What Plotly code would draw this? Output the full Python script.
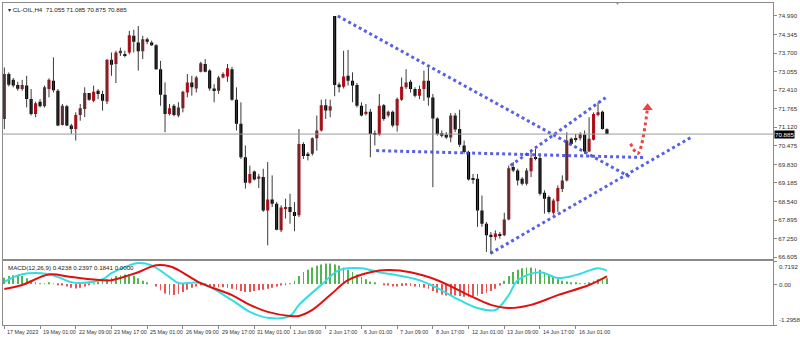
import plotly.graph_objects as go

# ---------------- data ----------------
opens = [71.41,72.97,72.77,72.59,72.45,72.57,72.10,71.58,72.01,71.85,72.45,72.74,72.39,71.20,71.85,71.18,71.06,71.55,71.76,72.31,
         72.04,72.39,72.28,72.02,73.47,73.32,73.69,73.66,73.72,74.30,74.07,73.76,74.18,74.07,73.97,73.14,72.25,71.58,71.87,71.53,
         71.78,72.33,72.68,72.47,73.05,73.32,73.09,72.47,72.39,72.85,72.89,73.14,72.08,71.24,70.08,69.19,69.58,69.33,69.39,68.23,
         68.61,68.46,67.54,68.31,68.35,68.18,68.06,70.54,70.20,70.20,70.74,71.01,71.89,71.70,74.99,72.61,72.53,72.91,72.74,72.59,
         71.87,71.58,71.66,70.91,70.86,71.89,71.53,71.66,71.18,72.08,72.51,72.70,72.45,72.22,72.45,72.74,72.16,71.43,70.91,70.86,
         70.77,71.53,71.06,70.49,70.26,69.35,69.33,68.23,67.77,67.39,67.31,67.39,67.37,67.92,69.74,69.62,69.33,69.16,69.59,70.08,
         70.05,68.85,68.70,68.15,68.55,68.98,69.27,70.72,70.74,70.74,70.86,70.28,70.69,71.55,71.66,71.055]
highs = [73.20,73.03,72.83,72.70,72.77,72.91,72.45,72.01,72.10,72.57,72.82,73.55,72.45,71.93,71.90,71.24,71.64,71.93,72.51,72.31,
         72.57,72.45,72.39,73.49,73.72,73.78,73.89,73.78,74.47,74.51,74.64,74.30,74.24,74.13,74.01,73.43,72.68,71.93,71.93,71.99,
         72.39,72.97,72.91,72.91,73.40,73.49,73.14,72.62,72.91,73.03,73.32,73.22,72.51,71.99,70.49,69.79,69.62,69.50,69.68,69.91,
         69.45,68.52,68.41,68.64,68.81,68.52,71.06,70.60,70.26,70.77,71.53,72.08,72.10,72.08,74.99,72.68,73.78,73.81,73.03,72.66,
         71.99,71.93,71.76,71.01,72.28,71.93,71.70,71.70,72.16,72.85,73.14,72.77,72.51,72.57,73.09,73.20,72.28,71.47,71.01,70.95,
         71.62,71.62,71.73,70.66,70.31,69.50,69.50,68.75,67.83,67.48,67.54,67.48,68.15,69.79,69.91,69.68,69.39,69.70,70.31,70.37,
         70.14,68.93,68.75,68.64,69.10,69.45,70.95,70.77,70.89,70.95,71.01,71.47,71.64,71.99,71.70,71.085]
lows = [71.06,72.54,72.51,72.39,72.39,71.81,71.53,71.47,71.81,71.81,72.16,72.33,71.16,71.18,71.16,70.89,70.66,71.35,71.47,72.04,
        71.99,72.10,71.70,71.93,72.91,72.66,73.60,73.55,73.66,73.72,73.09,73.49,74.01,73.95,73.12,71.87,70.95,71.53,71.50,71.47,
        71.64,72.16,72.22,72.33,73.03,73.03,72.39,71.99,72.28,72.82,72.70,72.04,71.01,70.02,68.99,69.16,69.27,69.01,68.18,67.02,
        68.35,67.54,67.48,67.95,67.77,67.51,68.00,70.02,69.97,70.14,70.31,70.97,71.41,71.47,72.20,72.33,72.47,72.57,71.99,71.81,
        71.50,71.53,70.08,70.49,70.83,71.35,71.47,71.12,70.97,72.04,72.45,72.33,72.16,72.10,72.04,71.87,69.04,70.83,70.77,70.72,
        70.60,70.95,70.43,70.20,69.27,69.16,67.66,67.66,66.79,66.73,67.19,67.25,67.34,67.89,69.56,69.10,69.10,69.10,69.39,69.97,
        68.75,68.12,68.12,68.08,68.18,68.87,69.24,70.49,70.60,70.66,70.20,70.26,70.66,71.50,71.04,70.875]
closes = [72.97,72.60,72.57,72.46,72.59,72.10,71.58,71.96,71.85,72.51,72.77,72.41,71.18,71.87,71.18,71.06,71.55,71.78,72.31,72.08,
          72.36,72.28,72.04,73.47,73.29,73.72,73.78,73.60,74.32,74.09,73.76,74.18,74.09,73.97,73.14,72.25,71.58,71.78,71.55,71.81,
          72.36,72.68,72.51,72.85,73.35,73.05,72.47,72.38,72.85,72.97,73.17,72.08,71.24,70.08,69.19,69.50,69.31,69.41,68.23,68.61,
          68.46,67.56,68.33,68.35,68.18,68.04,70.54,70.12,70.12,70.74,71.01,71.89,71.70,71.85,72.59,72.51,72.89,72.74,72.57,71.87,
          71.53,71.66,70.89,70.86,71.87,71.41,71.66,71.18,72.10,72.53,72.68,72.45,72.22,72.45,72.74,72.16,71.43,70.89,70.83,70.77,
          71.53,71.04,70.51,70.26,69.31,69.31,68.23,67.77,67.37,67.33,67.43,67.37,67.92,69.70,69.62,69.27,69.16,69.62,70.05,70.02,
          68.81,68.64,68.18,68.58,69.01,69.27,70.66,70.54,70.69,70.89,70.28,70.72,71.58,71.64,71.06,70.885]

time_labels = ["17 May 2023","19 May 01:00","22 May 09:00","23 May 17:00","25 May 01:00","26 May 09:00",
               "29 May 17:00","31 May 01:00","1 Jun 09:00","2 Jun 17:00","6 Jun 01:00","7 Jun 09:00",
               "8 Jun 17:00","12 Jun 01:00","13 Jun 09:00","14 Jun 17:00","16 Jun 01:00"]
time_label_bars = [0,8,16,24,32,40,48,56,64,72,80,88,96,104,112,120,128]

price_ticks = [74.990,74.345,73.700,73.055,72.410,71.765,71.120,70.475,69.830,69.185,68.540,67.895,67.250,66.605]

# MACD (12,26,9) at sample bars
macd_bars   = [0,4,10,15,17,22,24,28,30,33,37,39,44,51,55,59,64,66,71,75,80,84,88,93,97,102,106,110,113,115,120,124,128,133,135]
macd_main   = [0.07,0.31,0.31,0.06,0.03,0.15,0.34,0.59,0.66,0.59,0.22,0.03,0.03,-0.51,-0.88,-1.07,-1.01,-0.66,-0.03,0.44,
               0.50,0.37,0.28,0.12,-0.13,-0.51,-0.76,-0.82,-0.35,0.12,0.37,0.19,0.28,0.50,0.4238]
signal_bars = [0,4,10,15,22,24,28,30,34,37,39,44,51,55,59,64,66,69,73,77,82,86,91,97,104,109,113,118,124,131,135]
macd_signal = [-0.16,-0.03,0.30,0.22,0.12,0.12,0.28,0.37,0.59,0.56,0.44,0.03,-0.35,-0.66,-0.88,-1.01,-1.01,-0.82,-0.35,0.12,
               0.37,0.44,0.37,0.12,-0.35,-0.66,-0.76,-0.66,-0.35,-0.03,0.2397]
macd_hist = [0.20,0.25,0.28,0.28,0.25, 0.18,0.10,0.05,0.02,0.02, 0.03,0.02,-0.03,-0.05,-0.08, -0.12,-0.14,-0.12,-0.08,-0.04,
             0.02,0.06,0.10,0.15,0.20, 0.25,0.28,0.30,0.30,0.25, 0.18,0.10,0.05,0.00,-0.08, -0.20,-0.30,-0.34,-0.35,-0.32,
             -0.25,-0.18,-0.12,-0.08,-0.03, -0.05,-0.08,-0.10,-0.10,-0.10, -0.12,-0.15,-0.18,-0.22,-0.25, -0.25,-0.22,-0.20,-0.18,-0.15,
             -0.12,-0.08,-0.05,-0.02,0.02, 0.10,0.25,0.38,0.45,0.52, 0.58,0.62,0.65,0.65,0.62, 0.58,0.52,0.45,0.38,0.30,
             0.22,0.15,0.08,0.03,0.00, -0.03,-0.05,-0.08,-0.08,-0.06, -0.05,-0.06,-0.08,-0.10,-0.12, -0.15,-0.22,-0.28,-0.33,-0.36,
             -0.36,-0.36,-0.38,-0.40,-0.40, -0.38,-0.36,-0.32,-0.28,-0.22, -0.15,-0.05,0.10,0.25,0.38, 0.45,0.50,0.52,0.52,0.50,
             0.45,0.38,0.30,0.22,0.15, 0.10,0.08,0.05,0.03,0.02, 0.02,0.05,0.10,0.15,0.18, 0.1841]
macd_range = [-1.2958, 0.7192]

# user-drawn trendlines: (bar, price) endpoints
down_line_x = [74.7,140.3];  down_line_y = [74.99,69.38]
flat_line_x = [83.3,143.4];  flat_line_y = [70.31,70.07]
up_hi_x     = [113.4,134.7]; up_hi_y     = [69.79,72.15]
up_lo_x     = [108.9,153.7]; up_lo_y     = [66.74,70.76]
arrow_x     = [140.3,141.9,144.1]; arrow_y = [70.55,70.21,71.80]
shift_marker_bar = 137.4

# ---------------- figure ----------------
n = len(closes)
bars = list(range(n))
RED = "#b8101a"
up = [c >= o for o, c in zip(opens, closes)]

fig = go.Figure()

# wicks
wx, wy = [], []
for i in bars:
    wx += [i, i, None]
    wy += [lows[i], highs[i], None]
fig.add_trace(go.Scatter(x=wx, y=wy, mode="lines", line=dict(color="#3a3a3a", width=1),
                         hoverinfo="skip", xaxis="x", yaxis="y"))
# bodies
body_base = [min(o, c) for o, c in zip(opens, closes)]
body_h = [max(abs(c - o), 0.03) for o, c in zip(opens, closes)]
fig.add_trace(go.Bar(x=bars, y=body_h, base=body_base, width=0.7,
                     marker=dict(color=[RED if u else "#000000" for u in up], line=dict(width=0)),
                     xaxis="x", yaxis="y"))

# trendlines
dot = dict(color="#3c46e0", width=3, dash="dot")
for lx, ly in [(down_line_x, down_line_y), (flat_line_x, flat_line_y), (up_hi_x, up_hi_y), (up_lo_x, up_lo_y)]:
    fig.add_trace(go.Scatter(x=lx, y=ly, mode="lines", line=dot, opacity=0.85, xaxis="x", yaxis="y"))
fig.add_trace(go.Scatter(x=arrow_x, y=arrow_y, mode="lines", line=dict(color="#f04040", width=3, dash="dot"),
                         line_shape="spline", xaxis="x", yaxis="y"))
fig.add_trace(go.Scatter(x=[arrow_x[-1]], y=[arrow_y[-1]], mode="markers",
                         marker=dict(symbol="triangle-up", size=9, color="#f04040"), xaxis="x", yaxis="y"))

# MACD panel
fig.add_trace(go.Bar(x=bars, y=macd_hist, width=0.18,
                     marker=dict(color=["#52b452" if v >= 0 else "#e65454" for v in macd_hist], line=dict(width=0)),
                     xaxis="x2", yaxis="y2"))
fig.add_trace(go.Scatter(x=macd_bars, y=macd_main, mode="lines", line=dict(color="#33dde0", width=2),
                         line_shape="spline", xaxis="x2", yaxis="y2"))
fig.add_trace(go.Scatter(x=signal_bars, y=macd_signal, mode="lines", line=dict(color="#e01010", width=2),
                         line_shape="spline", xaxis="x2", yaxis="y2"))

last = closes[-1]
fig.add_shape(type="line", xref="paper", x0=0, x1=1, yref="y", y0=last, y1=last,
              line=dict(color="#9a9a9a", width=1))

font = "Liberation Sans, Arial"
fs = 6.2
fsx = 5.4
ann = []
for b, t in zip(time_label_bars, time_labels):
    ann.append(dict(x=b, y=0, xref="x2", yref="paper", yshift=-2, text=t, showarrow=False,
                    xanchor="left", yanchor="top", xshift=1, font=dict(size=fsx, color="#333", family=font)))
ann.append(dict(x=1, y=last, xref="paper", yref="y", text=f"{last:.3f}", showarrow=False, xanchor="left",
                xshift=1, bgcolor="#000000", font=dict(size=fs, color="#ffffff", family=font), borderpad=0))
ann.append(dict(x=0, y=1, xref="paper", yref="paper", text=f"▾ CL-OIL,H4  {opens[-1]:.3f} {highs[-1]:.3f} {lows[-1]:.3f} {closes[-1]:.3f}",
                showarrow=False, xanchor="left", yanchor="top", xshift=3, yshift=-1,
                font=dict(size=fs, color="#222", family=font)))
ann.append(dict(x=shift_marker_bar, y=1, xref="x", yref="paper", text="▼", showarrow=False,
                yanchor="middle", font=dict(size=5, color="#888", family=font)))
ann.append(dict(x=0, y=macd_range[1], xref="paper", yref="y2",
                text="MACD(12,26,9) 0.4238 0.2397 0.1841 0.0000", showarrow=False, xanchor="left",
                yanchor="top", xshift=3, yshift=-1, font=dict(size=fs, color="#222", family=font)))
for v, t, ya in [(macd_range[1], "0.7192", "top"), (0.0, "0.00", "middle"), (macd_range[0], "-1.2958", "bottom")]:
    ann.append(dict(x=1, y=v, xref="paper", yref="y2", text=t, showarrow=False, xanchor="left",
                    yanchor=ya, xshift=4, font=dict(size=fs, color="#333", family=font)))

axcol = "#8a8a8a"
xr = [-0.3, 172.2]
fig.update_layout(
    width=800, height=338, margin=dict(l=2, r=24, t=2, b=13),
    paper_bgcolor="white", plot_bgcolor="white", showlegend=False, barmode="overlay",
    xaxis=dict(domain=[0, 1], anchor="y", range=xr, showticklabels=False, showgrid=False, zeroline=False,
               showline=True, mirror=True, linecolor=axcol, linewidth=1, ticks=""),
    xaxis2=dict(domain=[0, 1], anchor="y2", range=xr, matches="x", showgrid=False, zeroline=False,
                showline=True, mirror=True, linecolor=axcol, linewidth=1,
                tickvals=time_label_bars, ticks="outside", ticklen=3, tickcolor=axcol, showticklabels=False),
    yaxis=dict(domain=[0.2043, 1], anchor="x", side="right", range=[66.536, 75.44], showgrid=False, zeroline=False,
               showline=True, mirror=True, linecolor=axcol, linewidth=1,
               tickvals=price_ticks, ticktext=[f"{v:.3f}" for v in price_ticks], ticks="outside", ticklen=3,
               tickcolor=axcol, tickfont=dict(size=fs, color="#333", family=font)),
    yaxis2=dict(domain=[0, 0.198], anchor="x2", side="right", range=macd_range, showgrid=False, zeroline=False,
                showline=True, mirror=True, linecolor=axcol, linewidth=1,
                tickvals=[macd_range[1], 0, macd_range[0]], ticks="outside", ticklen=3, tickcolor=axcol,
                showticklabels=False),
    annotations=ann,
)
fig.write_html("out.html")
